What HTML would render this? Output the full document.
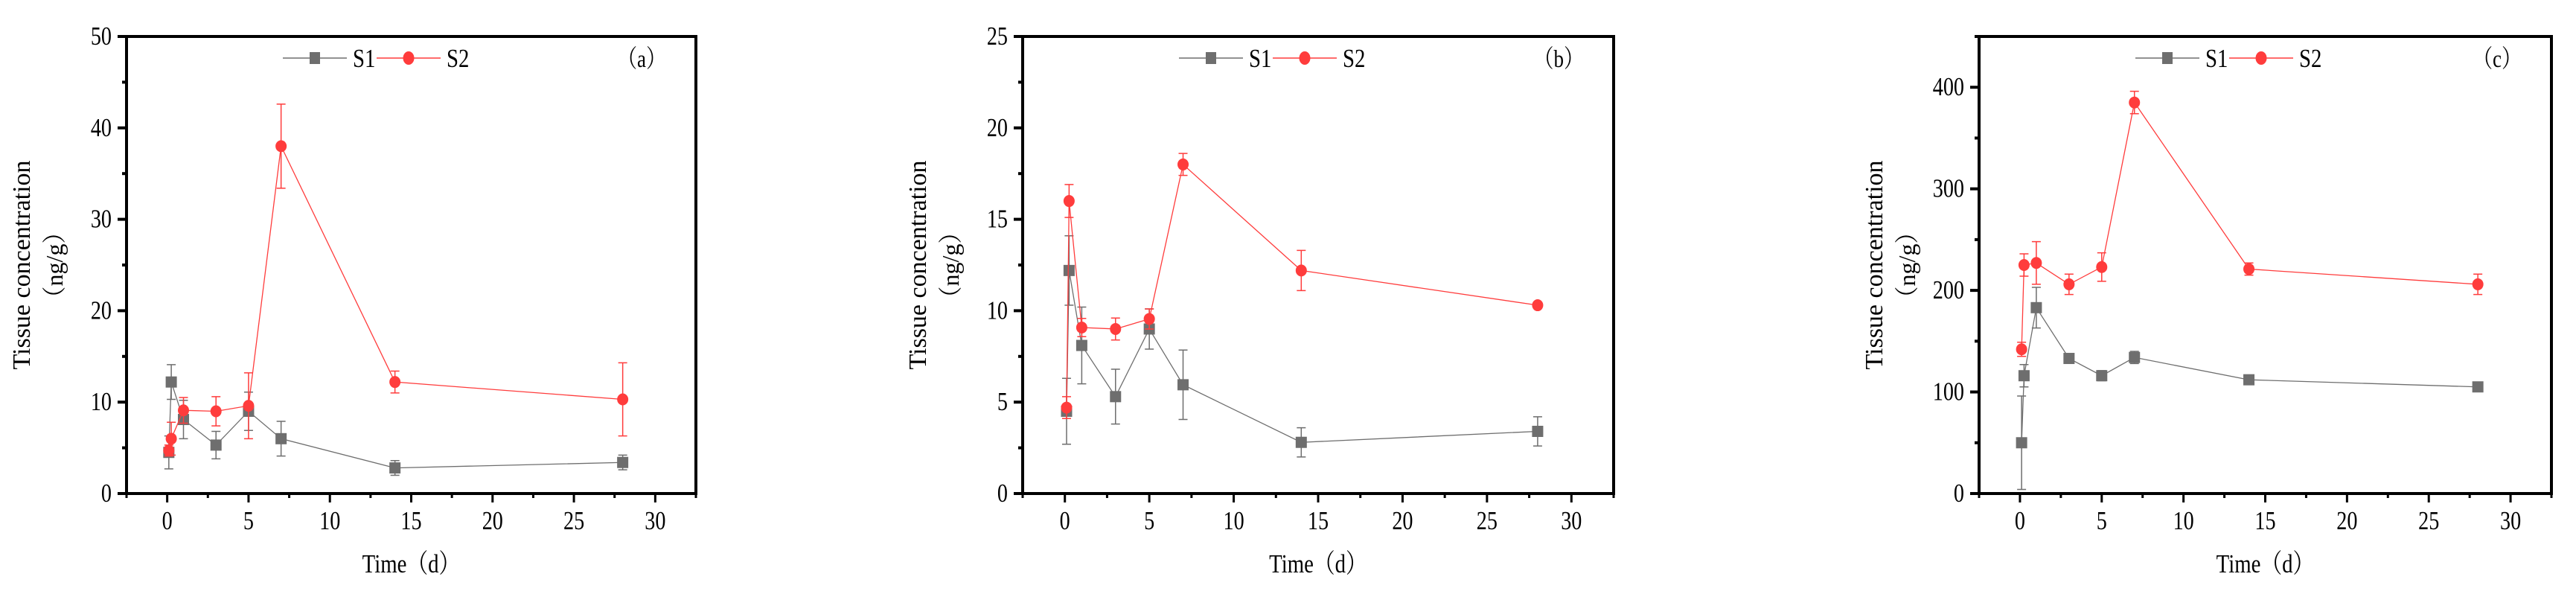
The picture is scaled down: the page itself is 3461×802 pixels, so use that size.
<!DOCTYPE html>
<html><head><meta charset="utf-8">
<style>
html,body{margin:0;padding:0;background:#fff;}
svg{display:block;}
text{font-family:"Liberation Serif","Noto Serif CJK SC",serif;fill:#000;}
</style></head>
<body>
<svg id="fig" width="3461" height="802" viewBox="0 0 3461 802" xmlns="http://www.w3.org/2000/svg"></svg>
<script>
// ---- data ----
const days = [0.1, 0.25, 1, 3, 5, 7, 14, 28];
const xTicks = [0, 5, 10, 15, 20, 25, 30];
// panel a
const aS1 = [4.5, 12.2, 8.1, 5.3, 9.0, 6.0, 2.8, 3.4];
const aS1Err = [1.8, 1.9, 2.1, 1.5, 2.1, 1.9, 0.8, 0.8];
const aS2 = [4.7, 6.0, 9.1, 9.0, 9.6, 38.0, 12.2, 10.3];
const aS2Err = [0.6, 1.8, 1.4, 1.6, 3.6, 4.6, 1.2, 4.0];
const aYTicks = [0, 10, 20, 30, 40, 50];
// panel b
const bS1 = [4.5, 12.2, 8.1, 5.3, 9.0, 5.95, 2.8, 3.4];
const bS1Err = [1.8, 1.9, 2.1, 1.5, 1.1, 1.9, 0.8, 0.8];
const bS2 = [4.7, 16.0, 9.08, 9.0, 9.55, 18.0, 12.2, 10.3];
const bS2Err = [0.6, 0.9, 0.5, 0.6, 0.55, 0.6, 1.1, 0.1];
const bYTicks = [0, 5, 10, 15, 20, 25];
// panel c
const cS1 = [50, 116, 183, 133, 116, 134, 112, 105];
const cS1Err = [46, 11, 20, 4, 5, 6, 3, 3];
const cS2 = [142, 225, 227, 206, 223, 385, 221, 206];
const cS2Err = [7, 11, 21, 10, 14, 11, 6, 10];
const cYTicks = [0, 100, 200, 300, 400];

const NS = "http://www.w3.org/2000/svg";
const svg = document.getElementById('fig');
function mk(tag, attrs, parent){
  const e = document.createElementNS(NS, tag);
  for (const k in attrs) e.setAttribute(k, attrs[k]);
  (parent||svg).appendChild(e);
  return e;
}
const GRAY = "#6e6e6e", RED = "#ff3c3c";

function panel(id, L, R, yMax, yTicks, yMinorStep, s1, s1e, s2, s2e, tag){
  const T = 49, B = 663;
  const g = mk('g', {});
  
  
  const xs = v => L + (v + 2.5) / 35 * (R - L);
  const ys = v => B - v / yMax * (B - T);

  const frame = mk('rect', {x:L, y:T, width:R-L, height:B-T, fill:'none', stroke:'#000', 'stroke-width':4}, g);
  
  

  for (let v = 0; v <= yMax + 1e-9; v += yMinorStep){
    const major = yTicks.some(t => Math.abs(t - v) < 1e-9);
    const t = mk('line', {x1:L - (major?12:6), x2:L, y1:ys(v), y2:ys(v), stroke:'#000', 'stroke-width':4}, g);
    
    
  }
  yTicks.forEach(v => {
    const t = mk('text', {x:0, y:0, 'font-size':32, 'text-anchor':'end', transform:`translate(${L-20},${ys(v)+11}) scale(0.88,1.08)`}, g);
    t.textContent = v;
    
    
  });
  for (let v = -2.5; v <= 32.5 + 1e-9; v += 2.5){
    const major = Math.abs(v % 5) < 1e-9;
    const t = mk('line', {x1:xs(v), x2:xs(v), y1:B, y2:B + (major?12:6), stroke:'#000', 'stroke-width':3}, g);
    
    
  }
  xTicks.forEach(v => {
    const t = mk('text', {x:0, y:0, 'font-size':32, 'text-anchor':'middle', transform:`translate(${xs(v)},${711}) scale(0.88,1.08)`}, g);
    t.textContent = v;
    
    
  });
  const xt = mk('text', {x:0, y:0, 'font-size':32, 'text-anchor':'middle', transform:`translate(${(L+R)/2},${769}) scale(0.9,1.1)`}, g);
  xt.textContent = 'Time（d）';
  
  
  const cy = (T + B) / 2;
  const yt = mk('text', {x:0, y:0, 'font-size':34, 'text-anchor':'middle', transform:`translate(${L-130},${cy}) rotate(-90)`}, g);
  yt.textContent = 'Tissue concentration';
  
  
  const yt2 = mk('text', {x:0, y:0, 'font-size':32, 'text-anchor':'middle', transform:`translate(${L-86},${cy}) rotate(-90)`}, g);
  yt2.textContent = '（ng/g）';
  
  

  function series(vals, errs, color, kind, name){
    const sg = mk('g', {}, g);
    
    
    const pts = days.map((d,i) => xs(d) + ',' + ys(vals[i])).join(' ');
    mk('polyline', {points:pts, fill:'none', stroke:color, 'stroke-width':1.3}, sg);
    days.forEach((d,i) => {
      const x = xs(d), y1 = ys(vals[i] + errs[i]), y2 = ys(Math.max(0, vals[i] - errs[i]));
      const eb = mk('path', {d:`M${x},${y1}V${y2}M${x-6},${y1}H${x+6}M${x-6},${y2}H${x+6}`, stroke:color, 'stroke-width':1.5, fill:'none'}, sg);
      
      
      let m;
      if (kind === 'sq') m = mk('rect', {x:x-7.5, y:ys(vals[i])-7.5, width:15, height:15, fill:color}, sg);
      else m = mk('ellipse', {cx:x, cy:ys(vals[i]), rx:7.5, ry:8, fill:color}, sg);
      
      
    });
  }
  series(s1, s1e, GRAY, 'sq', 'series-s1');
  series(s2, s2e, RED, 'ci', 'series-s2');

  const lg = mk('g', {}, g);
  
  
  const ly = 78, lx = L + 210;
  mk('line', {x1:lx, x2:lx+86, y1:ly, y2:ly, stroke:GRAY, 'stroke-width':1.5}, lg);
  mk('rect', {x:lx+36, y:ly-8, width:14, height:16, fill:GRAY}, lg);
  const l1 = mk('text', {x:0, y:0, 'font-size':32, transform:`translate(${lx+94},${ly+12}) scale(0.9,1.1)`}, lg);
  l1.textContent = 'S1';
  
  
  mk('line', {x1:lx+126, x2:lx+212, y1:ly, y2:ly, stroke:RED, 'stroke-width':1.5}, lg);
  mk('ellipse', {cx:lx+169, cy:ly, rx:7.5, ry:9, fill:RED}, lg);
  const l2 = mk('text', {x:0, y:0, 'font-size':32, transform:`translate(${lx+220},${ly+12}) scale(0.9,1.1)`}, lg);
  l2.textContent = 'S2';
  
  
  const pl = mk('text', {x:0, y:0, 'font-size':30, 'text-anchor':'end', transform:`translate(${R-40},${ly+12}) scale(0.9,1.1)`}, g);
  pl.textContent = '（' + tag + '）';
  
  
}

panel('a', 170, 935, 50, aYTicks, 5, aS1, aS1Err, aS2, aS2Err, 'a');
panel('b', 1374, 2168, 25, bYTicks, 2.5, bS1, bS1Err, bS2, bS2Err, 'b');
panel('c', 2659, 3428, 450, cYTicks, 50, cS1, cS1Err, cS2, cS2Err, 'c');
</script>
</body></html>
